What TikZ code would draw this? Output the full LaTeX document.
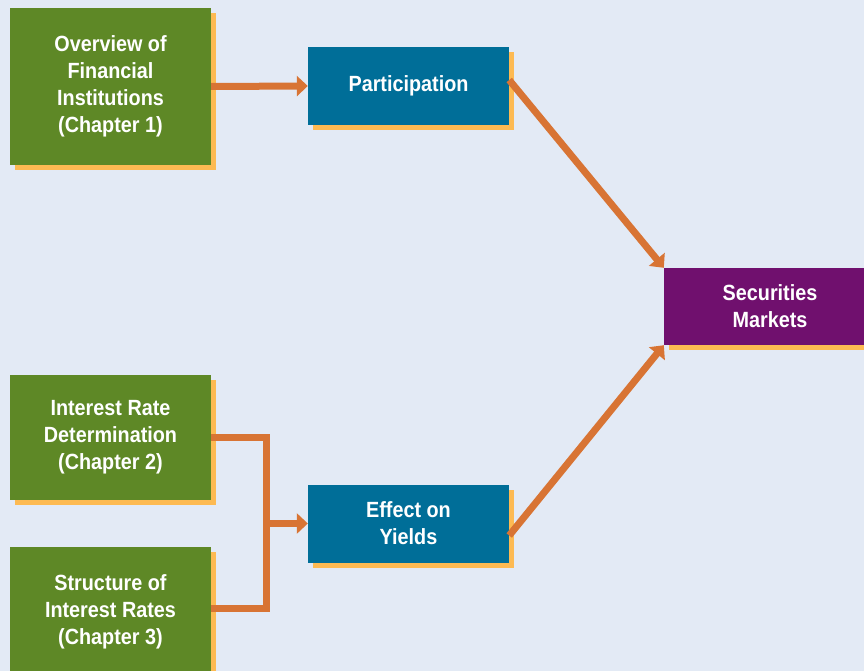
\documentclass[tikz,border=0pt]{standalone}
\usepackage{fontspec}
\setmainfont{Liberation Sans}[FakeStretch=0.9]
\usepackage{tikz}
\usetikzlibrary{arrows.meta,positioning,shadows}

\definecolor{bgblue}{HTML}{E3EAF5}
\definecolor{boxgreen}{HTML}{5E8826}
\definecolor{boxblue}{HTML}{006E98}
\definecolor{boxpurple}{HTML}{70106E}
\definecolor{shadowyellow}{HTML}{FDBA52}
\definecolor{linkorange}{HTML}{D87434}

\begin{document}
\begin{tikzpicture}[x=1pt,y=-1pt,
    box/.style={rectangle, minimum width=201pt, inner sep=0pt, text=white,
        align=center, font=\fontsize{22}{27}\selectfont\bfseries,
        drop shadow={shadow xshift=5pt, shadow yshift=-5pt, fill=shadowyellow, opacity=1}},
    topic/.style={box, fill=boxgreen},
    effect/.style={box, fill=boxblue, minimum height=78pt},
    market/.style={box, fill=boxpurple, minimum width=212pt, minimum height=77pt},
    wire/.style={linkorange, line width=7pt, line join=miter},
    link/.style={wire, -{Triangle[length=11pt,width=20pt]}}]
    \fill[bgblue] (0,0) rectangle (864,671);
    \useasboundingbox (0,0) rectangle (864,671);

    % chapters on the left
    \node[topic, minimum height=157pt] (fin) at (110.5,86.5) {Overview of\\Financial\\Institutions\\(Chapter 1)};
    \node[topic, minimum height=125pt] (rate) at (110.5,437.5) {Interest Rate\\Determination\\(Chapter 2)};
    \node[topic, minimum height=130pt] (struct) at (110.5,612) {Structure of\\Interest Rates\\(Chapter 3)};

    % middle and right
    \node[effect] (part) at (408.5,86) {Participation};
    \node[effect] (yield) at (408.5,523.5) {Effect on\\Yields};
    \node[market] (sec) at (770,306.5) {Securities\\Markets};

    \coordinate (jn) at (266,523.5);

    \draw[link] (fin.east) -- (part.west);
    \draw[link] ([yshift=6pt]part.east) -- (sec.north west);
    \draw[link] ([yshift=-12pt]yield.east) -- (sec.south west);
    % bracket joining chapters 2 and 3
    \draw[wire] (rate.east) -- (rate.east -| jn) -- (jn |- 0,608)
        -- (struct.east |- 0,608);
    \draw[link] (jn) -- (yield.west);
\end{tikzpicture}
\end{document}
